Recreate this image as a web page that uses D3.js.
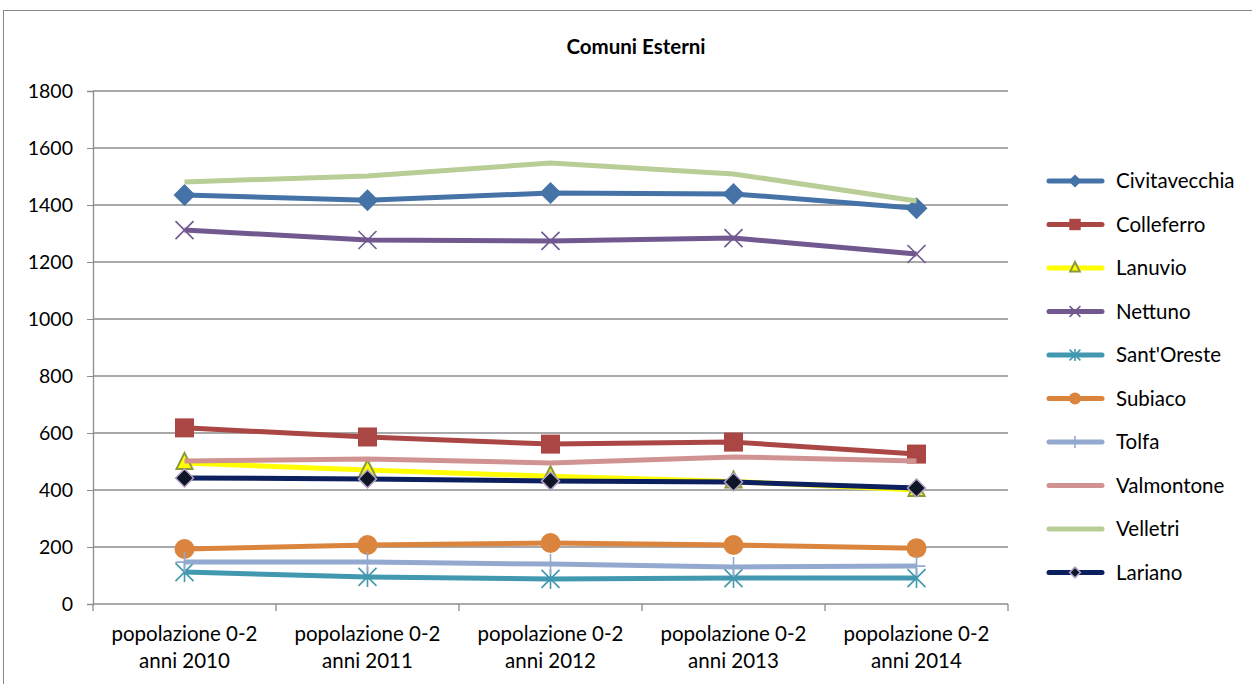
<!DOCTYPE html>
<html><head><meta charset="utf-8">
<script src="https://cdn.jsdelivr.net/npm/d3@7"></script>
<style>body{margin:0;background:#fff}svg{display:block;font-family:Lato,"Liberation Sans",sans-serif}</style>
</head><body><svg id="c" width="1252" height="684"></svg>
<script>
const categories = ["popolazione 0-2 anni 2010","popolazione 0-2 anni 2011","popolazione 0-2 anni 2012","popolazione 0-2 anni 2013","popolazione 0-2 anni 2014"];
const seriesNames = ["Civitavecchia","Colleferro","Lanuvio","Nettuno","Sant'Oreste","Subiaco","Tolfa","Valmontone","Velletri","Lariano"];
const civitavecchia = [1435,1417,1442,1439,1389];
const colleferro = [618,586,561,568,526];
const lanuvio = [495,470,448,430,400];
const nettuno = [1312,1277,1274,1284,1228];
const santOreste = [112,95,88,91,91];
const subiaco = [193,207,214,207,196];
const tolfa = [147,147,140,130,133];
const valmontone = [502,509,495,516,502];
const velletri = [1481,1502,1547,1509,1414];
const lariano = [442,439,432,428,407];
const yTicks = [0,200,400,600,800,1000,1200,1400,1600,1800];

const values = [civitavecchia,colleferro,lanuvio,nettuno,santOreste,subiaco,tolfa,valmontone,velletri,lariano];
const colors = ["#4573A7","#AA4643","#FFFF00","#71588F","#4198AF","#DB843D","#93A9CF","#D19392","#B9CD96","#0C1F5E"];
const markers = ["diamond","square","triangle","x","star","circle","plus","none","none","diamond2"];

const svg = d3.select("#c");
const L=93,R=1008,T=91,B=604;
const x = d3.scaleBand().domain(categories).range([L,R]);
const y = d3.scaleLinear().domain([0,1800]).range([B,T]);

svg.append("rect").attr("x",3.5).attr("y",10.5).attr("width",1260).attr("height",700).attr("fill","none").attr("stroke","#888").attr("stroke-width",1);

svg.append("text").attr("x",636).attr("y",54).attr("text-anchor","middle").attr("font-weight","bold").attr("font-size",20.5).attr("fill","#000").text("Comuni Esterni");

// gridlines
svg.append("g").selectAll("line").data(yTicks.filter(d=>d>0)).join("line")
 .attr("x1",L).attr("x2",R).attr("y1",d=>y(d)).attr("y2",d=>y(d)).attr("stroke","#8c8c8c").attr("stroke-width",1.3);

// y axis
const ya = svg.append("g").attr("transform",`translate(${L},0)`).call(d3.axisLeft(y).tickValues(yTicks).tickFormat(d3.format("d")).tickSize(6).tickPadding(14));
ya.select(".domain").attr("stroke","#8c8c8c").attr("stroke-width",1.3);
ya.selectAll(".tick line").attr("stroke","#8c8c8c");
ya.selectAll("text").attr("font-size",19.5).attr("fill","#000").attr("font-family","Lato,'Liberation Sans',sans-serif");

// x axis
const xa = svg.append("g").attr("transform",`translate(0,${B})`);
xa.append("line").attr("x1",L).attr("x2",R).attr("y1",0).attr("y2",0).attr("stroke","#8c8c8c").attr("stroke-width",1.3);
const bounds = categories.map(c=>x(c)).concat([R]);
xa.selectAll("line.t").data(bounds).join("line").attr("class","t").attr("x1",d=>d).attr("x2",d=>d).attr("y1",0).attr("y2",7).attr("stroke","#8c8c8c").attr("stroke-width",1.3);
categories.forEach(c=>{
  const m = c.match(/^(.*0-2) (anni \d+)$/);
  const t = xa.append("text").attr("text-anchor","middle").attr("font-size",20.5).attr("fill","#000");
  t.append("tspan").attr("x",x(c)+x.bandwidth()/2).attr("y",37).text(m[1]);
  t.append("tspan").attr("x",x(c)+x.bandwidth()/2).attr("y",64).text(m[2]);
});

function dia(cx,cy,r){return `M${cx},${cy-r}L${cx+r},${cy}L${cx},${cy+r}L${cx-r},${cy}Z`;}
function drawMarker(g,type,cx,cy,color,scale){
  const s = scale||1;
  if(type==="diamond"){g.append("path").attr("d",dia(cx,cy,11*s)).attr("fill",color);}
  else if(type==="square"){g.append("rect").attr("x",cx-9.5*s).attr("y",cy-9.5*s).attr("width",19*s).attr("height",19*s).attr("fill",color);}
  else if(type==="triangle"){g.append("path").attr("d",`M${cx},${cy-10*s}L${cx+8*s},${cy+6*s}L${cx-8*s},${cy+6*s}Z`).attr("fill","#FFFF00").attr("stroke","#8A9A3B").attr("stroke-width",2);}
  else if(type==="x"){g.append("path").attr("d",`M${cx-9*s},${cy-9*s}L${cx+9*s},${cy+9*s}M${cx-9*s},${cy+9*s}L${cx+9*s},${cy-9*s}`).attr("stroke",color).attr("stroke-width",1.6);}
  else if(type==="star"){g.append("path").attr("d",`M${cx-9*s},${cy-9*s}L${cx+9*s},${cy+9*s}M${cx-9*s},${cy+9*s}L${cx+9*s},${cy-9*s}M${cx},${cy-10*s}L${cx},${cy+10*s}`).attr("stroke",color).attr("stroke-width",1.6);}
  else if(type==="circle"){g.append("circle").attr("cx",cx).attr("cy",cy).attr("r",10*s).attr("fill",color);}
  else if(type==="plus"){g.append("path").attr("d",`M${cx},${cy-10*s}L${cx},${cy+10*s}M${cx-9*s},${cy}L${cx+9*s},${cy}`).attr("stroke",color).attr("stroke-width",1.6);}
  else if(type==="diamond2"){g.append("path").attr("d",dia(cx,cy,9*s)).attr("fill","#0D1526").attr("stroke","#B3A2C7").attr("stroke-width",1.5);}
}

const line = d3.line().x((d,i)=>x(categories[i])+x.bandwidth()/2).y(d=>y(d));
const plot = svg.append("g");
values.forEach((vals,k)=>{
  const g = plot.append("g");
  g.append("path").attr("d",line(vals)).attr("fill","none").attr("stroke",colors[k]).attr("stroke-width",5).attr("stroke-linejoin","round");
  vals.forEach((v,i)=>drawMarker(g,markers[k],x(categories[i])+x.bandwidth()/2,y(v),colors[k],1));
});

// legend
const lg = svg.append("g");
seriesNames.forEach((n,k)=>{
  const yy = 181 + k*43.5;
  lg.append("line").attr("x1",1049).attr("x2",1102).attr("y1",yy).attr("y2",yy).attr("stroke",colors[k]).attr("stroke-width",5).attr("stroke-linecap","round");
  drawMarker(lg,markers[k],1075,yy,colors[k],0.6);
  lg.append("text").attr("x",1116).attr("y",yy+7).attr("font-size",20.5).attr("fill","#000").text(n);
});
</script></body></html>
